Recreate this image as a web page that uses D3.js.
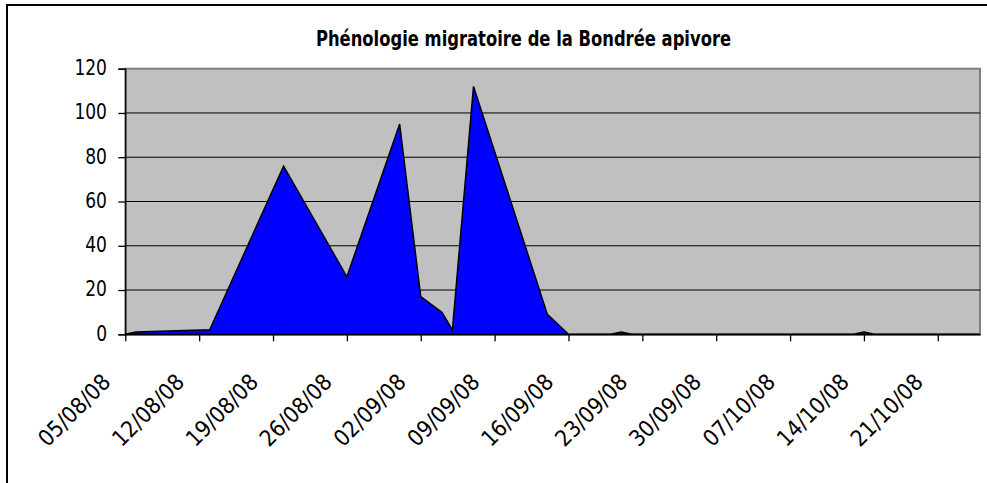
<!DOCTYPE html>
<html lang="fr">
<head>
  <meta charset="UTF-8">
  <title>Phénologie migratoire de la Bondrée apivore</title>
  <script src="https://d3js.org/d3.v7.min.js"></script>
  <style>
    body {
      background: #ffffff;
      margin: 0;
      overflow: hidden;
    }
    text {
      font-family: "DejaVu Sans Condensed", "DejaVu Sans", sans-serif;
      font-stretch: condensed;
      fill: #000;
    }
    .title {
      font-size: 18.2px;
      font-weight: bold;
      text-anchor: middle;
    }
    .ylab {
      font-size: 19px;
      text-anchor: end;
    }
    .xlab {
      font-size: 22.5px;
      text-anchor: end;
    }
  </style>
</head>
<body>
  <script>
    var dates = ["05/08/08", "06/08/08", "13/08/08", "20/08/08", "26/08/08", "31/08/08",
                 "02/09/08", "04/09/08", "05/09/08", "07/09/08", "14/09/08", "16/09/08",
                 "20/09/08", "21/09/08", "22/09/08", "13/10/08", "14/10/08", "15/10/08",
                 "25/10/08"];
    var counts = [0, 1, 2, 76, 26, 95, 17, 10, 2, 112, 9, 0, 0, 1, 0, 0, 1, 0, 0];

    var tickLabels = ["05/08/08", "12/08/08", "19/08/08", "26/08/08", "02/09/08", "09/09/08",
                      "16/09/08", "23/09/08", "30/09/08", "07/10/08", "14/10/08", "21/10/08"];
    var yTicks = [0, 20, 40, 60, 80, 100, 120];

    var titleText = "Phénologie migratoire de la Bondrée apivore";

    var width = 987, height = 483;
    var plot = { left: 125.3, right: 980, top: 68.7, bottom: 334.3 };
    var stretch = 1.15; // le texte d'origine est un peu étiré en hauteur

    var parse = d3.utcParse("%d/%m/%y");

    var data = dates.map(function(d, i) {
      return { date: parse(d), value: counts[i] };
    });

    var svg = d3.select("body").append("svg")
      .attr("width", width)
      .attr("height", height);

    // cadre du graphique
    svg.append("rect")
      .attr("x", 7)
      .attr("y", 5)
      .attr("width", width + 20)
      .attr("height", height + 20)
      .attr("fill", "#fff")
      .attr("stroke", "#000")
      .attr("stroke-width", 2);

    var x = d3.scaleUtc()
      .domain([parse("05/08/08"), parse("25/10/08")])
      .range([plot.left, plot.right]);

    var y = d3.scaleLinear()
      .domain([0, 120])
      .range([plot.bottom, plot.top]);

    // zone de tracé
    svg.append("rect")
      .attr("x", plot.left)
      .attr("y", plot.top)
      .attr("width", plot.right - plot.left)
      .attr("height", plot.bottom - plot.top)
      .attr("fill", "#c0c0c0")
      .attr("stroke", "#808080")
      .attr("stroke-width", 2);

    // quadrillage
    svg.append("g")
      .selectAll("line")
      .data(yTicks.filter(function(t) { return t > 0 && t < 120; }))
      .enter()
      .append("line")
      .attr("x1", plot.left)
      .attr("x2", plot.right)
      .attr("y1", function(d) { return y(d); })
      .attr("y2", function(d) { return y(d); })
      .attr("stroke", "#000")
      .attr("stroke-width", 1);

    var area = d3.area()
      .x(function(d) { return x(d.date); })
      .y0(y(0))
      .y1(function(d) { return y(d.value); });

    svg.append("path")
      .datum(data)
      .attr("d", area)
      .attr("fill", "#0000ff")
      .attr("stroke", "#000")
      .attr("stroke-width", 1.5)
      .attr("stroke-linejoin", "miter");

    // axe Y
    var yAxis = d3.axisLeft(y)
      .tickValues(yTicks)
      .tickSize(7)
      .tickFormat("");

    svg.append("g")
      .attr("transform", "translate(" + plot.left + ",0)")
      .call(yAxis)
      .call(function(g) {
        g.selectAll("path, line").attr("stroke", "#000").attr("stroke-width", 1.3);
      });

    svg.append("g")
      .selectAll("text")
      .data(yTicks)
      .enter()
      .append("text")
      .classed("ylab", true)
      .attr("transform", function(d) {
        return "translate(107," + (y(d) + 6.4) + ") scale(1," + stretch + ")";
      })
      .text(function(d) { return d; });

    // axe X
    var tickDates = tickLabels.map(parse);

    var xAxis = d3.axisBottom(x)
      .tickValues(tickDates)
      .tickSize(7)
      .tickSizeOuter(0)
      .tickFormat("");

    svg.append("g")
      .attr("transform", "translate(0," + plot.bottom + ")")
      .call(xAxis)
      .call(function(g) {
        g.selectAll("path, line").attr("stroke", "#000").attr("stroke-width", 1.3);
      });

    svg.append("g")
      .selectAll("text")
      .data(tickLabels)
      .enter()
      .append("text")
      .classed("xlab", true)
      .attr("transform", function(d) {
        return "translate(" + (x(parse(d)) - 13.5) + "," + 383.5 + ") rotate(-45)";
      })
      .text(function(d) { return d; });

    svg.append("text")
      .classed("title", true)
      .attr("transform", "translate(523.5,46) scale(1," + stretch + ")")
      .text(titleText);
  </script>
</body>
</html>
